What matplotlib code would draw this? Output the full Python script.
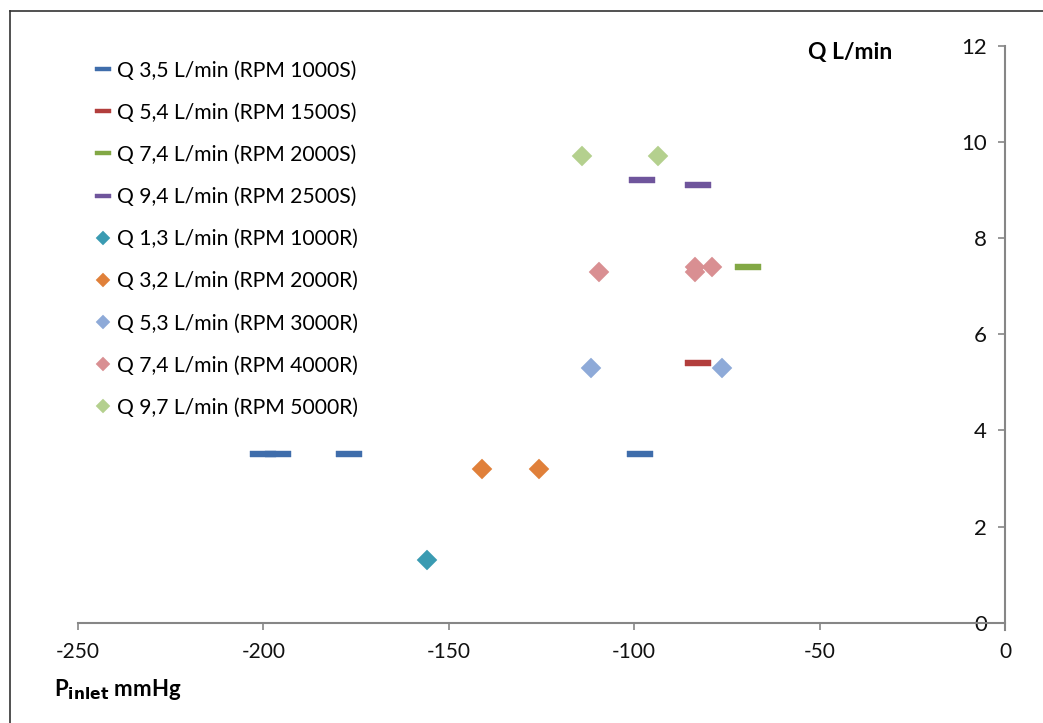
import matplotlib
matplotlib.use("Agg")
import matplotlib.pyplot as plt
from matplotlib.lines import Line2D

plt.rcParams['font.family'] = ['Lato', 'DejaVu Sans']
plt.rcParams['axes.unicode_minus'] = False

labels = [
    "Q 3,5 L/min (RPM 1000S)",
    "Q 5,4 L/min (RPM 1500S)",
    "Q 7,4 L/min (RPM 2000S)",
    "Q 9,4 L/min (RPM 2500S)",
    "Q 1,3 L/min (RPM 1000R)",
    "Q 3,2 L/min (RPM 2000R)",
    "Q 5,3 L/min (RPM 3000R)",
    "Q 7,4 L/min (RPM 4000R)",
    "Q 9,7 L/min (RPM 5000R)",
]
p_1000S = [-200, -196, -177, -98.5]
q_1000S = [3.5, 3.5, 3.5, 3.5]
p_1500S = [-82.8]
q_1500S = [5.4]
p_2000S = [-69.3]
q_2000S = [7.4]
p_2500S = [-97.8, -82.9]
q_2500S = [9.2, 9.1]
p_1000R = [-155.9]
q_1000R = [1.3]
p_2000R = [-141.1, -125.8]
q_2000R = [3.2, 3.2]
p_3000R = [-111.7, -76.2]
q_3000R = [5.3, 5.3]
p_4000R = [-109.6, -83.6, -83.6, -79.1]
q_4000R = [7.3, 7.4, 7.3, 7.4]
p_5000R = [-114.0, -93.5]
q_5000R = [9.7, 9.7]

x_ticks = [-250, -200, -150, -100, -50, 0]
y_ticks = [0, 2, 4, 6, 8, 10, 12]

series = [
    (p_1000S, q_1000S), (p_1500S, q_1500S), (p_2000S, q_2000S), (p_2500S, q_2500S),
    (p_1000R, q_1000R), (p_2000R, q_2000R), (p_3000R, q_3000R), (p_4000R, q_4000R),
    (p_5000R, q_5000R),
]
colors = ['#3f6dab', '#b23e3c', '#82a845', '#6f559c', '#3a9bb2', '#e0803a',
          '#8eaad8', '#d98f92', '#b4d08e']

dash = [(-1, -0.24), (1, -0.24), (1, 0.24), (-1, 0.24), (-1, -0.24)]

fig = plt.figure(figsize=(10.43, 7.23), dpi=100)
ax = fig.add_axes([78 / 1043, 1 - 622.7 / 723, (1005 - 78) / 1043, (622.7 - 45.7) / 723])

handles = []
for i, ((xs, ys), c, lab) in enumerate(zip(series, colors, labels)):
    if i < 4:
        ax.plot(xs, ys, linestyle='none', marker=dash, markersize=19,
                markerfacecolor=c, markeredgecolor=c, markeredgewidth=0.3, label=lab)
        handles.append(Line2D([], [], linestyle='none', marker=dash, markersize=11,
                              markerfacecolor=c, markeredgecolor=c, markeredgewidth=0.3))
    else:
        ax.plot(xs, ys, linestyle='none', marker='D', markersize=10.5,
                markerfacecolor=c, markeredgecolor=c, markeredgewidth=0.3, label=lab)
        handles.append(Line2D([], [], linestyle='none', marker='D', markersize=7,
                              markerfacecolor=c, markeredgecolor=c, markeredgewidth=0.3))

ax.set_xlim(-250, 0)
ax.set_ylim(0, 12)
ax.set_xticks(x_ticks)
ax.set_yticks(y_ticks)

ax.spines['top'].set_visible(False)
ax.spines['right'].set_visible(False)
ax.spines['left'].set_position(('data', 0))
ax.spines['left'].set_color('#868686')
ax.spines['bottom'].set_color('#868686')
ax.spines['left'].set_linewidth(1.5)
ax.spines['bottom'].set_linewidth(1.5)
ax.spines['left'].set_bounds(-0.15, 12)
ax.tick_params(axis='y', direction='out', length=5, width=1.2, color='#868686',
               pad=8, labelcolor='#111111', labelsize=16)
ax.tick_params(axis='x', direction='out', length=5, width=1.2, color='#868686',
               pad=9, labelcolor='#111111', labelsize=15)
ax.patch.set_visible(False)

leg = ax.legend(handles, labels, loc='upper left', bbox_to_anchor=(0.002, 1.0),
                frameon=False, fontsize=15.2, labelspacing=1.05, handlelength=0.8,
                handletextpad=0.25, borderaxespad=0.3)

ax.text(0.787, 0.989, "Q L/min", transform=ax.transAxes, fontsize=16.5,
        fontweight='bold', ha='left', va='center')
fig.text(54 / 1043, 1 - 690 / 723, r"P$_{\mathbf{inlet}}$ mmHg", fontsize=16,
         fontweight='bold', ha='left', va='center')

# figure border (top and left)
fig.add_artist(Line2D([10 / 1043, 10 / 1043], [0, 1 - 10.7 / 723], transform=fig.transFigure,
                      color='#333333', linewidth=1.2))
fig.add_artist(Line2D([10 / 1043, 1], [1 - 10.7 / 723, 1 - 10.7 / 723], transform=fig.transFigure,
                      color='#333333', linewidth=1.2))

fig.savefig("out.png", dpi=100)
